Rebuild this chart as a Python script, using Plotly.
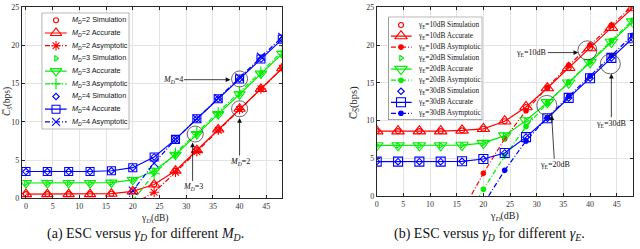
import plotly.graph_objects as go

# ---------------- data ----------------
gamma_D = [0, 4, 8, 12, 16, 20, 24, 28, 32, 36, 40, 44, 48]

# (a) different M_D
md2_sim = [0.55, 0.55, 0.55, 0.55, 0.6, 0.9, 1.8, 3.6, 6.3, 9.0, 11.7, 14.3, 17.0]
md2_acc = [0.55, 0.55, 0.55, 0.55, 0.6, 0.9, 1.8, 3.6, 6.3, 9.0, 11.7, 14.3, 17.0]
md2_asy = [None, None, None, None, None, -0.8, 0.8, 3.4, 6.1, 8.9, 11.6, 14.3, 17.0]
md3_sim = [2.0, 2.0, 2.0, 2.0, 2.05, 2.4, 3.6, 5.7, 8.4, 11.0, 13.6, 16.3, 18.9]
md3_acc = [2.0, 2.0, 2.0, 2.0, 2.05, 2.4, 3.6, 5.7, 8.4, 11.0, 13.6, 16.3, 18.9]
md3_asy = [None, None, None, None, None, -0.3, 3.2, 5.9, 8.6, 11.2, 13.9, 16.5, 19.2]
md4_sim = [3.5, 3.5, 3.5, 3.5, 3.6, 4.0, 5.4, 7.7, 10.4, 13.0, 15.6, 18.2, 20.8]
md4_acc = [3.5, 3.5, 3.5, 3.5, 3.6, 4.0, 5.4, 7.7, 10.4, 13.0, 15.6, 18.2, 20.8]
md4_asy = [None, None, None, None, -4.0, 1.0, 4.6, 7.7, 10.4, 13.1, 15.8, 18.5, 21.1]

# (b) different gamma_E
e10_sim = [8.6, 8.6, 8.6, 8.6, 8.7, 8.9, 9.9, 11.8, 14.3, 17.0, 19.6, 22.3, 24.9]
e10_acc = [8.6, 8.6, 8.6, 8.6, 8.7, 8.9, 9.9, 11.8, 14.3, 17.0, 19.6, 22.3, 24.9]
e10_asy = [None, None, None, None, -2.1, 3.0, 7.6, 11.3, 14.4, 17.3, 20.0, 22.6, 25.2]
e20_sim = [6.7, 6.7, 6.7, 6.7, 6.75, 7.0, 8.0, 10.0, 12.4, 15.0, 17.7, 20.4, 23.1]
e20_acc = [6.7, 6.7, 6.7, 6.7, 6.75, 7.0, 8.0, 10.0, 12.4, 15.0, 17.7, 20.4, 23.1]
e20_asy = [None, None, None, None, -3.9, 0.9, 5.3, 9.2, 12.3, 15.1, 17.8, 20.6, 23.3]
e30_sim = [4.55, 4.55, 4.55, 4.55, 4.6, 4.9, 5.7, 7.8, 10.3, 13.0, 15.6, 18.3, 20.9]
e30_acc = [4.55, 4.55, 4.55, 4.55, 4.6, 4.9, 5.7, 7.8, 10.3, 13.0, 15.6, 18.3, 20.9]
e30_asy = [None, None, None, None, None, -1.1, 3.4, 7.3, 10.4, 13.2, 15.9, 18.6, 21.3]

x_ticks = [0, 5, 10, 15, 20, 25, 30, 35, 40, 45]
y_ticks = [0, 5, 10, 15, 20, 25]

labels_a = ["<i>M</i><sub><i>D</i></sub>=2 Simulation", "<i>M</i><sub><i>D</i></sub>=2 Accurate",
            "<i>M</i><sub><i>D</i></sub>=2 Asymptotic", "<i>M</i><sub><i>D</i></sub>=3 Simulation",
            "<i>M</i><sub><i>D</i></sub>=3 Accurate", "<i>M</i><sub><i>D</i></sub>=3 Asymptotic",
            "<i>M</i><sub><i>D</i></sub>=4 Simulation", "<i>M</i><sub><i>D</i></sub>=4 Accurate",
            "<i>M</i><sub><i>D</i></sub>=4 Asymptotic"]
labels_b = ["γ<sub>E</sub>=10dB Simulation", "γ<sub>E</sub>=10dB Accurate", "γ<sub>E</sub>=10dB Asymptotic",
            "γ<sub>E</sub>=20dB Simulation", "γ<sub>E</sub>=20dB Accurate", "γ<sub>E</sub>=20dB Asymptotic",
            "γ<sub>E</sub>=30dB Simulation", "γ<sub>E</sub>=30dB Accurate", "γ<sub>E</sub>=30dB Asymptotic"]

# ---------------- styles ----------------
RED, GREEN, BLUE = "#FF0000", "#00EE00", "#0000FF"
DASHDOT = "5px,2px,1px,2px"
SERIF = "Liberation Serif, Times New Roman, serif"
SANS = "Liberation Sans, Arial, sans-serif"
AXC = "#262626"

W, H = 640, 249
# plot areas in pixels
A_L, A_R, A_T, A_B = 21.7, 282.3, 7.0, 198.3
B_L, B_R, B_T, B_B = 376.7, 632.7, 7.3, 196.0


def dom_x(l, r):
    return [l / W, r / W]


def dom_y(t, b):
    return [1 - b / H, 1 - t / H]


spec_a = [
    (md2_sim, "markers", "circle-open", 5, RED, None),
    (md2_acc, "lines+markers", "triangle-up-open", 10, RED, "solid"),
    (md2_asy, "lines+markers", "asterisk-open", 8, RED, DASHDOT),
    (md3_sim, "markers", "triangle-right-open", 5, GREEN, None),
    (md3_acc, "lines+markers", "triangle-down-open", 10, GREEN, "solid"),
    (md3_asy, "lines+markers", "cross-thin-open", 8, GREEN, DASHDOT),
    (md4_sim, "markers", "diamond-open", 5, BLUE, None),
    (md4_acc, "lines+markers", "square-open", 8, BLUE, "solid"),
    (md4_asy, "lines+markers", "x-thin-open", 8, BLUE, DASHDOT),
]
spec_b = [
    (e10_sim, "markers", "circle-open", 5, RED, None),
    (e10_acc, "lines+markers", "triangle-up-open", 11, RED, "solid"),
    (e10_asy, "lines+markers", "circle", 4.5, RED, DASHDOT),
    (e20_sim, "markers", "triangle-right-open", 5, GREEN, None),
    (e20_acc, "lines+markers", "triangle-down-open", 11, GREEN, "solid"),
    (e20_asy, "lines+markers", "circle", 4.5, GREEN, DASHDOT),
    (e30_sim, "markers", "diamond-open", 5, BLUE, None),
    (e30_acc, "lines+markers", "square-open", 9, BLUE, "solid"),
    (e30_asy, "lines+markers", "circle", 4.5, BLUE, DASHDOT),
]

fig = go.Figure()

for specs, xa, ya in [(spec_a, "x", "y"), (spec_b, "x2", "y2")]:
    order = [1, 2, 4, 5, 7, 8, 0, 3, 6]
    for i in order:
        yv, mode, sym, sz, col, dash = specs[i]
        fig.add_trace(go.Scatter(
            x=gamma_D, y=yv, mode=mode, xaxis=xa, yaxis=ya, showlegend=False,
            line=dict(color=col, width=1.2, dash=dash or "solid"),
            marker=dict(symbol=sym, size=sz, color=col, line=dict(color=col, width=1.1)),
            cliponaxis=True, connectgaps=False))

# ---------------- manual legends ----------------
legend_boxes = [
    ("x3", "y3", 41.7, 129.3, 12.7, 129.3, 7.6, 12.7, 3.3, 25.0, 14.3, 28.0, SANS, 7.3, spec_a, labels_a),
    ("x4", "y4", 388.3, 482.3, 16.7, 120.0, 8.3, 11.04, 2.7, 23.4, 12.7, 28.0, SERIF, 7.3, spec_b, labels_b),
]
annotations = []
layout_axes = {}
for (xa, ya, l, r, t, b, off, sp, lx0, lx1, mx, tx, fnt, fs, specs, labs) in legend_boxes:
    wpx, hpx = r - l, b - t
    layout_axes["xaxis" + xa[1:]] = dict(domain=dom_x(l, r), range=[0, wpx], visible=False, fixedrange=True,
                                         anchor=ya, automargin=False)
    layout_axes["yaxis" + ya[1:]] = dict(domain=dom_y(t, b), range=[hpx, 0], visible=False, fixedrange=True,
                                         anchor=xa, automargin=False)
    fig.add_trace(go.Scatter(x=[0, wpx, wpx, 0, 0], y=[0, 0, hpx, hpx, 0], mode="lines", fill="toself",
                             fillcolor="white", line=dict(color=AXC, width=0.8), xaxis=xa, yaxis=ya,
                             showlegend=False, hoverinfo="skip"))
    for i, (yv, mode, sym, sz, col, dash) in enumerate(specs):
        yy = off + i * sp
        if "lines" in mode:
            fig.add_trace(go.Scatter(x=[lx0, lx1], y=[yy, yy], mode="lines", xaxis=xa, yaxis=ya,
                                     showlegend=False, line=dict(color=col, width=1.2, dash=dash)))
        fig.add_trace(go.Scatter(x=[mx], y=[yy], mode="markers", xaxis=xa, yaxis=ya, showlegend=False,
                                 marker=dict(symbol=sym, size=sz, color=col, line=dict(color=col, width=1.1))))
        annotations.append(dict(x=tx, y=yy, xref=xa, yref=ya, text=labs[i], showarrow=False,
                                xanchor="left", yanchor="middle", font=dict(family=fnt, size=fs, color="#111")))

# ---------------- axes ----------------
axis_common = dict(showline=True, linecolor=AXC, linewidth=0.8, mirror="ticks", ticks="inside",
                   ticklen=3, tickcolor=AXC, showgrid=True, gridcolor="#e3e3e3", gridwidth=0.6,
                   zeroline=False, automargin=False, tickfont=dict(family=SERIF, size=8, color="#333"))

fig.update_layout(
    width=W, height=H, margin=dict(l=0, r=0, t=0, b=0, autoexpand=False),
    paper_bgcolor="white", plot_bgcolor="white", showlegend=False,
    xaxis=dict(domain=dom_x(A_L, A_R), range=[-0.8, 48], tickvals=x_ticks, anchor="y", **axis_common),
    yaxis=dict(domain=dom_y(A_T, A_B), range=[0, 25], tickvals=y_ticks, anchor="x", **axis_common),
    xaxis2=dict(domain=dom_x(B_L, B_R), range=[0, 48], tickvals=x_ticks, anchor="y2", **axis_common),
    yaxis2=dict(domain=dom_y(B_T, B_B), range=[0, 25], tickvals=y_ticks, anchor="x2", **axis_common),
    **layout_axes,
)

# ---------------- circles ----------------
circles = [("x", "y", 40, 15.6, 8), ("x", "y", 40, 11.7, 8), ("x", "y", 31.7, 8.4, 8),
           ("x2", "y2", 39.5, 19.3, 9.5), ("x2", "y2", 43.8, 17.5, 10), ("x2", "y2", 31.9, 12.0, 10)]
for xr, yr, cx, cy, rr in circles:
    fig.add_shape(type="circle", xref=xr, yref=yr, xsizemode="pixel", ysizemode="pixel",
                  xanchor=cx, yanchor=cy, x0=-rr, x1=rr, y0=-rr, y1=rr,
                  line=dict(color=AXC, width=0.7), layer="above")

# ---------------- arrows with labels ----------------
arrows = [
    ("x", "y", 38.3, 15.5, "<i>M</i><sub><i>D</i></sub>=4", -58, 0),
    ("x", "y", 40, 10.5, "<i>M</i><sub><i>D</i></sub>=2", 0, 44),
    ("x", "y", 31.2, 7.3, "<i>M</i><sub><i>D</i></sub>=3", 0, 45),
    ("x2", "y2", 37.8, 19.0, "γ<sub>E</sub>=10dB", -47, 0),
    ("x2", "y2", 44.0, 16.2, "γ<sub>E</sub>=30dB", 0, 50),
    ("x2", "y2", 32.8, 10.7, "γ<sub>E</sub>=20dB", 3, 50),
]
for xr, yr, hx, hy, txt, ax, ay in arrows:
    annotations.append(dict(x=hx, y=hy, xref=xr, yref=yr, text=txt, showarrow=True, ax=ax, ay=ay,
                            arrowhead=2, arrowsize=1.2, arrowwidth=0.8, arrowcolor="#111",
                            font=dict(family=SERIF, size=8, color="#111"), standoff=0, startstandoff=0))

# ---------------- axis titles & captions ----------------
annotations += [
    dict(x=154 / W, y=1 - 218 / H, xref="paper", yref="paper", showarrow=False,
         xanchor="center", yanchor="middle",
         text="γ<sub><i>D</i></sub>(dB)", font=dict(family=SERIF, size=9.5, color="#222")),
    dict(x=504 / W, y=1 - 216 / H, xref="paper", yref="paper", showarrow=False,
         xanchor="center", yanchor="middle",
         text="γ<sub><i>D</i></sub>(dB)", font=dict(family=SERIF, size=10, color="#222")),
    dict(x=7 / W, y=1 - 102 / H, xref="paper", yref="paper", showarrow=False, textangle=-90,
         xanchor="center", yanchor="middle",
         text="<i>C̅</i><sub><i>S̅</i></sub>(bps)", font=dict(family=SERIF, size=9.5, color="#222")),
    dict(x=354 / W, y=1 - 103 / H, xref="paper", yref="paper", showarrow=False, textangle=-90,
         xanchor="center", yanchor="middle",
         text="C̅<sub>S̅</sub>(bps)", font=dict(family=SERIF, size=10.5, color="#222")),
    dict(x=145 / W, y=1 - 234 / H, xref="paper", yref="paper", showarrow=False,
         xanchor="center", yanchor="middle",
         text="(a) ESC versus <i>γ<sub>D</sub></i> for different <i>M<sub>D</sub></i>.",
         font=dict(family=SERIF, size=14, color="#111")),
    dict(x=489 / W, y=1 - 234 / H, xref="paper", yref="paper", showarrow=False,
         xanchor="center", yanchor="middle",
         text="(b) ESC versus <i>γ<sub>D</sub></i> for different <i>γ<sub>E</sub></i>.",
         font=dict(family=SERIF, size=14, color="#111")),
]
fig.update_layout(annotations=annotations)

fig.write_html("out.html", config={"displayModeBar": False},
               post_script="document.body.style.margin='0';document.body.style.overflow='hidden';")
